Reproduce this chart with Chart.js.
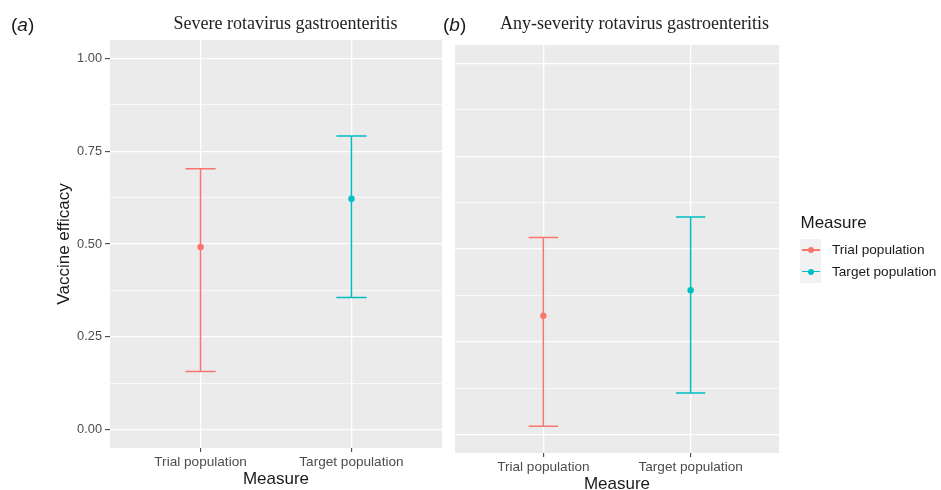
<!DOCTYPE html>
<html>
<head>
<meta charset="utf-8">
<script src="https://cdn.jsdelivr.net/npm/chart.js@4.4.1/dist/chart.umd.min.js"></script>
<style>
  body { margin: 0; width: 941px; height: 490px; overflow: hidden; background: #fff; position: relative;
         font-family: "Liberation Sans", Arial, sans-serif; }
  canvas { position: absolute; left: 0; top: 0; }
  .lbl { position: absolute; white-space: nowrap; color: #1a1a1a; }
  .tag { font-size: 19px; line-height: 26px; top: 12px; }
  .ttl { font-family: "Liberation Serif", "Times New Roman", serif; font-size: 18px; line-height: 24px; top: 11px;
         transform: translateX(-50%); color: #222; }
  .key { position: absolute; left: 800px; width: 21px; height: 22px; background: #F2F2F2; }
  .key .ln { position: absolute; left: 2px; width: 18px; top: 10.3px; height: 1.5px; }
  .key .dt { position: absolute; left: 8px; top: 8px; width: 6px; height: 6px; border-radius: 50%; }
  .item { font-size: 13.6px; line-height: 22px; left: 832px; }
</style>
</head>
<body>
<canvas id="severe_chart" width="941" height="490"></canvas>
<canvas id="any_chart" width="941" height="490"></canvas>

<div class="lbl tag" style="left:11px">(<i>a</i>)</div>
<div class="lbl tag" style="left:443px">(<i>b</i>)</div>
<div class="lbl ttl" style="left:285.5px">Severe rotavirus gastroenteritis</div>
<div class="lbl ttl" style="left:634.5px">Any-severity rotavirus gastroenteritis</div>

<div class="lbl" style="left:800.5px; top:211.5px; font-size:17px; line-height:22px">Measure</div>
<div id="legend_keys"></div>

<script>
// values
const measures = ['Trial population', 'Target population'];
const severe_est = [0.492, 0.622];
const severe_low = [0.156, 0.356];
const severe_high = [0.703, 0.791];
const any_est = [0.320, 0.389];
const any_low = [0.022, 0.112];
const any_high = [0.531, 0.586];
const y_ticks = [0, 0.25, 0.5, 0.75, 1];
const colors = ['#F8766D', '#00BFC4'];

// minor grid halfway between the major ticks
const y_grid = [];
y_ticks.forEach((v, i) => {
    y_grid.push(v);
    if (i < y_ticks.length - 1) y_grid.push((v + y_ticks[i + 1]) / 2);
});
const is_major = v => y_ticks.some(t => Math.abs(t - v) < 1e-9);

// legend (ggplot style, on the right)
let legend_html = '';
measures.forEach((m, i) => {
    let top = 239 + i * 21.7;
    legend_html += '<div class="key" style="top:' + top + 'px"><div class="ln" style="background:' + colors[i] +
        '"></div><div class="dt" style="background:' + colors[i] + '"></div></div>' +
        '<div class="lbl item" style="top:' + top + 'px">' + m + '</div>';
});
document.getElementById('legend_keys').innerHTML = legend_html;

const panel_bg = {
    id: 'panel_bg',
    beforeDraw(chart) {
        let {ctx, chartArea: a} = chart;
        ctx.save();
        ctx.fillStyle = '#EBEBEB';
        ctx.fillRect(a.left, a.top, a.right - a.left, a.bottom - a.top);
        ctx.restore();
    }
};

function error_bars(low, high) {
    return {
        id: 'error_bars',
        beforeDatasetsDraw(chart) {
            let c = chart.ctx, xs = chart.scales.x, ys = chart.scales.y;
            c.save();
            c.lineWidth = 1.5;
            low.forEach((lo, i) => {
                let x = xs.getPixelForValue(i + 1),
                    x0 = xs.getPixelForValue(i + 0.9),
                    x1 = xs.getPixelForValue(i + 1.1),
                    yl = ys.getPixelForValue(lo),
                    yh = ys.getPixelForValue(high[i]);
                c.strokeStyle = colors[i];
                c.beginPath();
                c.moveTo(x, yl); c.lineTo(x, yh);
                c.moveTo(x0, yl); c.lineTo(x1, yl);
                c.moveTo(x0, yh); c.lineTo(x1, yh);
                c.stroke();
            });
            c.restore();
        }
    };
}

function plot_panel(chart_id, est, low, high, o) {
    let ctx = document.getElementById(chart_id).getContext('2d');
    let datasets = measures.map((m, i) => ({
        label: m,
        data: [{x: i + 1, y: est[i]}],
        backgroundColor: colors[i],
        borderColor: colors[i],
        pointRadius: 3.2,
        pointBorderWidth: 0,
        showLine: false
    }));

    new Chart(ctx, {
        type: 'scatter',
        data: {datasets: datasets},
        plugins: [panel_bg, error_bars(low, high)],
        options: {
            responsive: false,
            animation: false,
            events: [],
            layout: {padding: o.padding},
            plugins: {legend: {display: false}, tooltip: {enabled: false}},
            scales: {
                x: {
                    type: 'linear', min: 0.4, max: 2.6,
                    afterBuildTicks: s => { s.ticks = measures.map((m, i) => ({value: i + 1})); },
                    afterFit: s => { s.height = o.x_height; },
                    ticks: {
                        callback: v => measures[v - 1],
                        color: '#4D4D4D', font: {size: 13.6}, padding: 2,
                        autoSkip: false, maxRotation: 0
                    },
                    grid: {color: '#fff', lineWidth: 1.3, tickLength: 4, tickColor: '#333', tickWidth: 1},
                    border: {display: false},
                    title: {
                        display: true, text: 'Measure', color: '#1a1a1a', font: {size: 17},
                        padding: {top: 0, bottom: o.x_title_pad}
                    }
                },
                y: {
                    type: 'linear', min: -0.05, max: 1.05,
                    afterBuildTicks: s => { s.ticks = y_grid.map(v => ({value: v})); },
                    afterFit: s => { s.width = o.y_width; },
                    ticks: {
                        display: o.show_y,
                        callback: v => is_major(v) ? v.toFixed(2) : '',
                        color: '#4D4D4D', font: {size: 12.8}, padding: 3
                    },
                    grid: {
                        color: '#fff',
                        lineWidth: c => is_major(c.tick.value) ? 1.3 : 0.7,
                        drawTicks: o.show_y,
                        tickLength: 5,
                        tickWidth: 1,
                        tickColor: c => is_major(c.tick.value) ? '#333' : 'rgba(0,0,0,0)'
                    },
                    border: {display: false},
                    title: {
                        display: o.show_y, text: 'Vaccine efficacy', color: '#1a1a1a', font: {size: 17},
                        padding: {top: 54, bottom: 0}
                    }
                }
            }
        }
    });
}

Chart.defaults.font.family = '"Liberation Sans", Arial, sans-serif';

plot_panel('severe_chart', severe_est, severe_low, severe_high, {
    padding: {left: 0, right: 499, top: 40, bottom: 0},
    x_height: 42, x_title_pad: 0, y_width: 110, show_y: true
});
plot_panel('any_chart', any_est, any_low, any_high, {
    padding: {left: 455, right: 162, top: 45, bottom: 0},
    x_height: 37, x_title_pad: -5, y_width: 0, show_y: false
});
</script>
</body>
</html>
